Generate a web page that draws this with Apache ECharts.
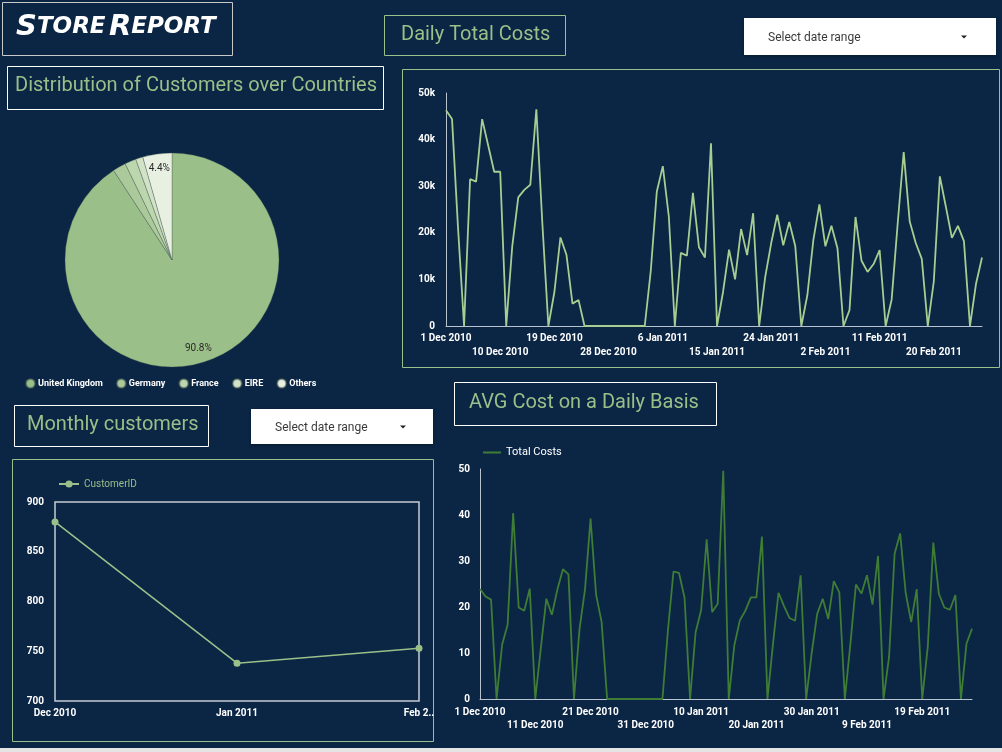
<!DOCTYPE html>
<html>
<head>
<meta charset="utf-8">
<script src="https://cdn.jsdelivr.net/npm/echarts@6/dist/echarts.min.js"></script>
<style>
html,body{margin:0;padding:0;background:#0b2545;}
#c{width:1002px;height:752px;}
</style>
</head>
<body>
<div id="c"></div>
<script>
// ---- data ----
const days = [
 '1 Dec 2010','2 Dec 2010','3 Dec 2010','4 Dec 2010','5 Dec 2010','6 Dec 2010','7 Dec 2010','8 Dec 2010','9 Dec 2010','10 Dec 2010',
 '11 Dec 2010','12 Dec 2010','13 Dec 2010','14 Dec 2010','15 Dec 2010','16 Dec 2010','17 Dec 2010','18 Dec 2010','19 Dec 2010','20 Dec 2010',
 '21 Dec 2010','22 Dec 2010','23 Dec 2010','24 Dec 2010','25 Dec 2010','26 Dec 2010','27 Dec 2010','28 Dec 2010','29 Dec 2010','30 Dec 2010',
 '31 Dec 2010','1 Jan 2011','2 Jan 2011','3 Jan 2011','4 Jan 2011','5 Jan 2011','6 Jan 2011','7 Jan 2011','8 Jan 2011','9 Jan 2011',
 '10 Jan 2011','11 Jan 2011','12 Jan 2011','13 Jan 2011','14 Jan 2011','15 Jan 2011','16 Jan 2011','17 Jan 2011','18 Jan 2011','19 Jan 2011',
 '20 Jan 2011','21 Jan 2011','22 Jan 2011','23 Jan 2011','24 Jan 2011','25 Jan 2011','26 Jan 2011','27 Jan 2011','28 Jan 2011','29 Jan 2011',
 '30 Jan 2011','31 Jan 2011','1 Feb 2011','2 Feb 2011','3 Feb 2011','4 Feb 2011','5 Feb 2011','6 Feb 2011','7 Feb 2011','8 Feb 2011',
 '9 Feb 2011','10 Feb 2011','11 Feb 2011','12 Feb 2011','13 Feb 2011','14 Feb 2011','15 Feb 2011','16 Feb 2011','17 Feb 2011','18 Feb 2011',
 '19 Feb 2011','20 Feb 2011','21 Feb 2011','22 Feb 2011','23 Feb 2011','24 Feb 2011','25 Feb 2011','26 Feb 2011','27 Feb 2011','28 Feb 2011'
];
const dailyTotalCosts = [
 46300,44400,21000,0,31500,31000,44400,38800,33100,33100,
 0,17100,27600,29200,30300,46500,22000,0,7300,19000,
 15300,4800,5600,0,0,0,0,0,0,0,
 0,0,0,0,11800,28800,34300,23500,0,15700,
 15100,28600,16900,14700,39200,0,7300,16400,10000,20800,
 15200,24200,0,10500,17800,23900,17300,22300,17100,0,
 6600,18500,26100,17100,21500,16700,0,3400,23400,14000,
 11600,13300,16300,0,5700,22000,37300,22400,17800,14400,
 0,9600,32100,25600,18900,21500,18200,0,9000,14700
];
const avgDailyCosts = [
 23.9,22.3,21.6,0,11.8,16.2,40.4,19.9,19.2,24.0,
 0,11.0,21.8,18.3,23.8,28.2,27.1,0,15.2,23.9,
 39.2,22.7,16.7,0,0,0,0,0,0,0,
 0,0,0,0,15.0,27.7,27.4,22.0,0,14.5,
 19.3,34.7,18.9,20.7,49.6,0,11.6,17.1,19.2,22.1,
 22.1,35.3,0,12.0,23.1,20.2,17.6,17.0,26.9,0,
 10.0,18.5,21.8,17.4,25.6,23.2,0,12.0,24.9,22.9,
 26.9,20.5,31.1,0,9.2,31.6,36.0,23.1,16.7,23.9,
 0,11.4,34.0,22.9,19.9,19.4,22.6,0,12.0,15.3
];
const countries = ['United Kingdom','Germany','France','EIRE','Others'];
const countryShares = [90.8, 2.0, 1.7, 1.1, 4.4];
const months = ['Dec 2010','Jan 2011','Feb 2011'];
const monthlyCustomers = [880, 738, 753];

// ---- styles ----
const BG = '#0b2545';
const GREEN = '#9abf88';
const pieColors = ['#9bbf88','#abc99b','#bcd6ae','#d2e2c7','#e8f0e1'];
const lab = {color:'#ffffff', fontFamily:'Roboto', fontWeight:'bold', fontSize:10};
const axisLineStyle = {lineStyle:{color:'#b9c2cf', width:1}};

function box(x,y,w,h,stroke){
  return {type:'rect', shape:{x:x+0.5,y:y+0.5,width:w,height:h}, style:{fill:'none', stroke:stroke, lineWidth:1}, silent:true};
}
function title(x,y,txt,size){
  return {type:'text', x:x, y:y, style:{text:txt, fill:GREEN, font:'normal '+size+'px Roboto', textVerticalAlign:'middle'}, silent:true};
}
function dropdown(x,y,w,h,tx,trx){
  return [
    {type:'rect', shape:{x:x,y:y,width:w,height:h}, style:{fill:'#ffffff', shadowBlur:3, shadowColor:'rgba(0,0,0,0.35)', shadowOffsetY:1}, silent:true},
    {type:'text', x:tx, y:y+h/2+1, style:{text:'Select date range', fill:'#3a3a3a', font:'normal 12px Roboto', textVerticalAlign:'middle'}, silent:true},
    {type:'polygon', shape:{points:[[trx-3,y+h/2-1],[trx+3,y+h/2-1],[trx,y+h/2+2]]}, style:{fill:'#222'}, silent:true}
  ];
}
// two-row date labels: row A on the axis, row B on a twin axis pushed lower
function dateAxis(grid, step, parity, margin){
  return {gridIndex:grid, type:'category', data:days, boundaryGap:false, position:'bottom',
    axisLine: parity===0 ? axisLineStyle : {show:false}, axisTick:{show:false},
    axisLabel:Object.assign({}, lab, {margin:margin, hideOverlap:false, showMaxLabel:true, showMinLabel:true,
      interval:(i)=> i%step===0 && (i/step)%2===parity})};
}

const chart = echarts.init(document.getElementById('c'), null, {renderer:'canvas'});
chart.setOption({
  backgroundColor: BG,
  animation: false,
  textStyle:{fontFamily:'Roboto'},
  graphic: [
    {type:'rect', shape:{x:0,y:748,width:1002,height:4}, style:{fill:'#e4e4e4'}, silent:true},
    box(2,2,230,53,'#c9c9c9'),
    {type:'text', x:16, y:27, style:{
      text:'{b|S}{s|TORE} {b|R}{s|EPORT}',
      textVerticalAlign:'middle',
      rich:{
        b:{fill:'#ffffff', font:'italic bold 29px "DejaVu Sans"'},
        s:{fill:'#ffffff', font:'italic bold 23px "DejaVu Sans"'}
      }}, silent:true},
    box(7,66,376,43,'#ffffff'),
    title(15,86,'Distribution of Customers over Countries',20),
    box(384,15,181,40,GREEN),
    title(401,35,'Daily Total Costs',20),
    ...dropdown(744,18,252,37,768,964),
    box(402,69,597,298,GREEN),
    box(14,405,194,41,'#ffffff'),
    title(27,425,'Monthly customers',20),
    ...dropdown(251,409,182,35,275,403),
    box(12,459,421,282,GREEN),
    box(454,382,262,43,'#ffffff'),
    title(469,403,'AVG Cost on a Daily Basis',20)
  ],
  legend: [
    {data:countries, left:20, top:373, orient:'horizontal', itemWidth:9, itemHeight:9, itemGap:13, icon:'circle',
     textStyle:{color:'#ffffff', fontSize:9, fontWeight:'bold', fontFamily:'Roboto', padding:[0,0,0,-2]}},
    {data:['CustomerID'], left:53, top:474, itemWidth:20, itemHeight:9,
     textStyle:{color:GREEN, fontSize:10, fontFamily:'Roboto'}},
    {data:[{name:'Total Costs', icon:'rect'}], left:478, top:442, itemWidth:18, itemHeight:2,
     textStyle:{color:'#ffffff', fontSize:11, fontFamily:'Roboto'}}
  ],
  grid: [
    {left:446, right:20, top:93, bottom:426, containLabel:false},
    {left:55, right:583, top:502, bottom:51, containLabel:false, show:true, borderColor:'#c5cbd3', borderWidth:1.5, backgroundColor:'transparent'},
    {left:480, right:30, top:469, bottom:53, containLabel:false}
  ],
  xAxis: [
    dateAxis(0, 9, 0, 7),
    {gridIndex:1, type:'category', data:months, boundaryGap:false,
     axisLine:{show:false}, axisTick:{show:false},
     axisLabel:Object.assign({}, lab, {margin:7, interval:0,
       formatter:(v,i)=> (i===months.length-1 ? v.slice(0,5)+'..' : v)})},
    dateAxis(2, 10, 0, 8),
    dateAxis(0, 9, 1, 21),
    dateAxis(2, 10, 1, 21)
  ],
  yAxis: [
    {gridIndex:0, type:'value', min:0, max:50000, interval:10000,
     axisLine:Object.assign({show:true}, axisLineStyle), splitLine:{show:false}, axisTick:{show:false},
     axisLabel:Object.assign({}, lab, {margin:11, formatter:v=> v===0 ? '0' : (v/1000)+'k'})},
    {gridIndex:1, type:'value', min:700, max:900, interval:50,
     axisLine:{show:false}, splitLine:{show:false}, axisTick:{show:false},
     axisLabel:Object.assign({}, lab, {margin:11})},
    {gridIndex:2, type:'value', min:0, max:50, interval:10,
     axisLine:Object.assign({show:true}, axisLineStyle), splitLine:{show:false}, axisTick:{show:false},
     axisLabel:Object.assign({}, lab, {margin:10})}
  ],
  series: [
    {name:'Daily Total Costs', type:'line', xAxisIndex:0, yAxisIndex:0, data:dailyTotalCosts,
     symbol:'none', lineStyle:{color:'#a7cd91', width:1.8}, itemStyle:{color:'#a7cd91'}},
    {name:'CustomerID', type:'line', xAxisIndex:1, yAxisIndex:1, data:monthlyCustomers,
     symbol:'circle', symbolSize:7, lineStyle:{color:GREEN, width:1.6}, itemStyle:{color:GREEN}},
    {name:'Total Costs', type:'line', xAxisIndex:2, yAxisIndex:2, data:avgDailyCosts,
     symbol:'none', lineStyle:{color:'#3f7c35', width:1.8}, itemStyle:{color:'#3f7c35'}},
    {name:'Countries', type:'pie', center:[172,260], radius:[0,107], startAngle:90, clockwise:true,
     percentPrecision:1,
     data:countries.map((n,i)=>({name:n, value:countryShares[i], itemStyle:{color:pieColors[i]}})),
     itemStyle:{borderColor:'rgba(70,90,80,0.55)', borderWidth:0.6},
     label:{show:false}, labelLine:{show:false}, emphasis:{disabled:true}},
    {name:'CountryLabels', type:'pie', center:[172,260], radius:[72,107], startAngle:90, clockwise:true,
     percentPrecision:1, silent:true, legendHoverLink:false,
     data:countries.map((n,i)=>({name:n, value:countryShares[i]})),
     itemStyle:{color:'rgba(0,0,0,0)'},
     label:{show:true, position:'inside', color:'#2a2a2a', fontSize:10, fontFamily:'Roboto',
       formatter:p=> p.percent>3 ? p.percent.toFixed(1)+'%' : ''},
     labelLine:{show:false}, emphasis:{disabled:true}}
  ]
});
</script>
</body>
</html>
